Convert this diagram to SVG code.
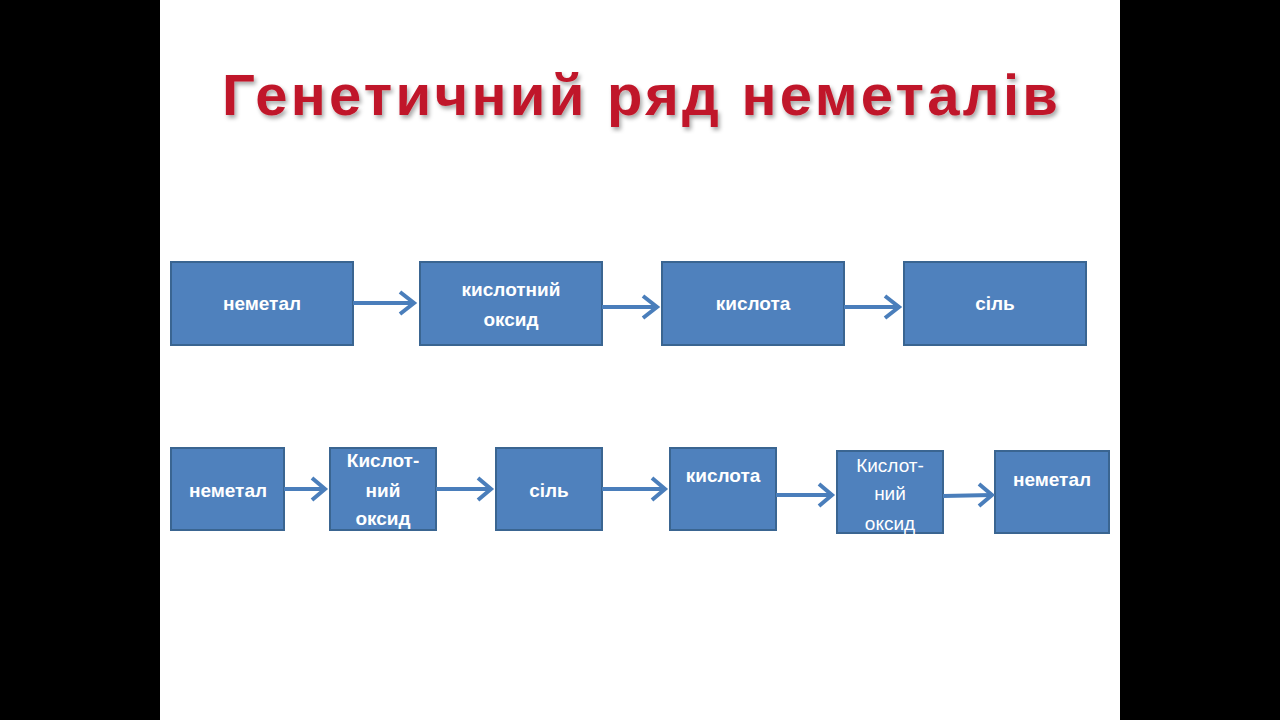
<svg xmlns="http://www.w3.org/2000/svg" width="1280" height="720" viewBox="0 0 1280 720">
<style>
.b{fill:#4f81bd;stroke:#3a6591;stroke-width:2}
.t{font-family:"Liberation Sans",Arial,sans-serif;font-size:19px;font-weight:bold;fill:#fff;text-anchor:middle}
.n{font-weight:normal}
.c line{stroke:#4a7ebb;stroke-width:4}
.c polyline{fill:none;stroke:#4a7ebb;stroke-width:4;stroke-linejoin:miter}
</style>
<defs><filter id="s"><feDropShadow dx="2" dy="3" stdDeviation="2" flood-color="#000" flood-opacity="0.35"/></filter></defs>
<rect width="1280" height="720" fill="#000"/>
<rect x="160" y="0" width="960" height="720" fill="#fff"/>
<text x="640" y="115" filter="url(#s)" style="font-family:'Liberation Sans',Arial,sans-serif;font-size:58px;font-weight:bold;fill:#c0182a;text-anchor:middle" textLength="836">Генетичний ряд неметалів</text>
<g id="r1n1"><rect class="b" x="171" y="262" width="182" height="83"/><text class="t" x="262" y="310">неметал</text></g>
<g id="r1n2"><rect class="b" x="420" y="262" width="182" height="83"/><text class="t" x="511" y="296">кислотний</text><text class="t" x="511" y="326">оксид</text></g>
<g id="r1n3"><rect class="b" x="662" y="262" width="182" height="83"/><text class="t" x="753" y="310">кислота</text></g>
<g id="r1n4"><rect class="b" x="904" y="262" width="182" height="83"/><text class="t" x="995" y="310">сіль</text></g>
<g id="r2n1"><rect class="b" x="171" y="448" width="113" height="82"/><text class="t" x="228" y="497">неметал</text></g>
<g id="r2n2"><rect class="b" x="330" y="448" width="106" height="82"/><text class="t" x="383" y="467">Кислот-</text><text class="t" x="383" y="497">ний</text><text class="t" x="383" y="525">оксид</text></g>
<g id="r2n3"><rect class="b" x="496" y="448" width="106" height="82"/><text class="t" x="549" y="497">сіль</text></g>
<g id="r2n4"><rect class="b" x="670" y="448" width="106" height="82"/><text class="t" x="723" y="482">кислота</text></g>
<g id="r2n5"><rect class="b" x="837" y="451" width="106" height="82"/><text class="t n" x="890" y="472">Кислот-</text><text class="t n" x="890" y="500">ний</text><text class="t n" x="890" y="530">оксид</text></g>
<g id="r2n6"><rect class="b" x="995" y="451" width="114" height="82"/><text class="t" x="1052" y="486">неметал</text></g>
<g class="c">
<line x1="353" y1="303" x2="414" y2="303"/><polyline points="400,292 414,303 400,314"/>
<line x1="602" y1="307" x2="657" y2="307"/><polyline points="643,296 657,307 643,318"/>
<line x1="844" y1="307" x2="899" y2="307"/><polyline points="885,296 899,307 885,318"/>
<line x1="284" y1="489" x2="325" y2="489"/><polyline points="312,478 325,489 312,500"/>
<line x1="436" y1="489" x2="491" y2="489"/><polyline points="478,478 491,489 478,500"/>
<line x1="602" y1="489" x2="665" y2="489"/><polyline points="652,478 665,489 652,500"/>
<line x1="776" y1="495" x2="832" y2="495"/><polyline points="819,484 832,495 819,506"/>
<line x1="943" y1="496" x2="992" y2="495"/><polyline points="979,484 992,495 979,506"/>
</g>
</svg>
